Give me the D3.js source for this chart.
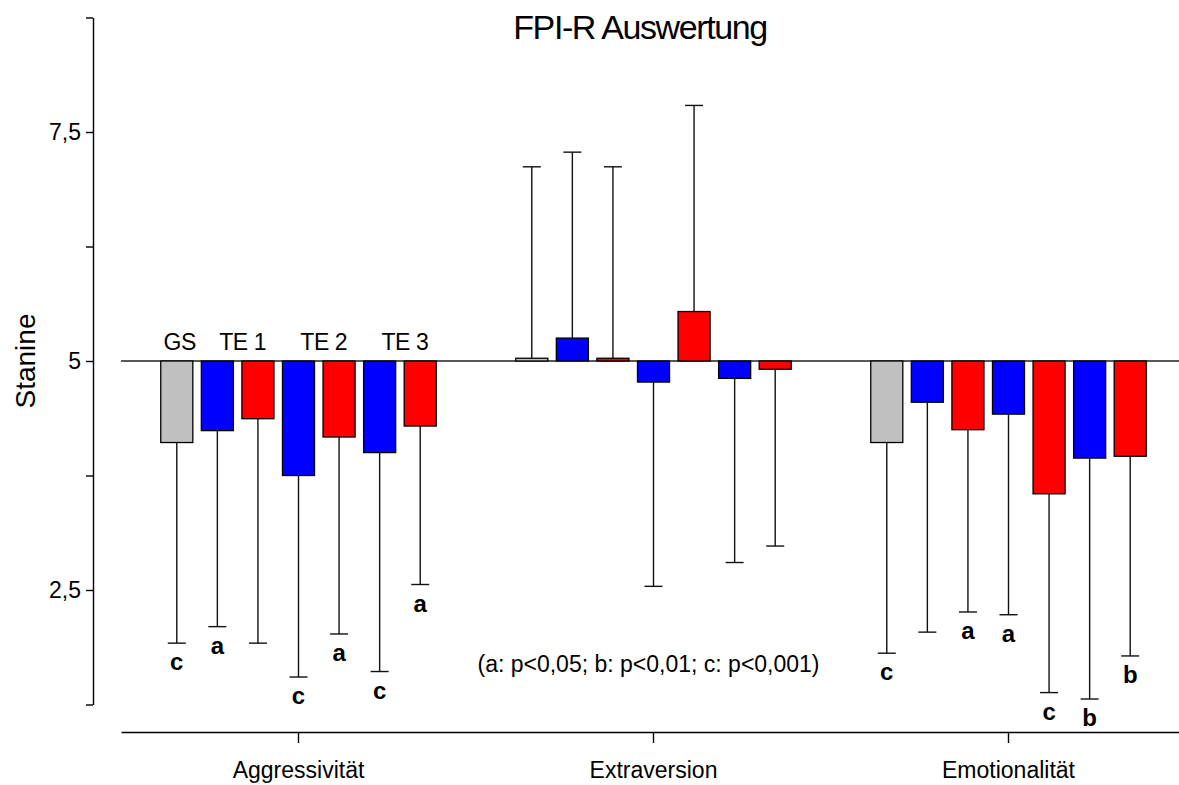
<!DOCTYPE html>
<html>
<head>
<meta charset="utf-8">
<script src="https://cdn.jsdelivr.net/npm/d3@7"></script>
<style>
  body { margin: 0; background: #fff; }
  svg { font-family: "Liberation Sans", Arial, sans-serif; }
  .axis path, .axis line { stroke: #000; stroke-width: 1.4; }
  .axis text { font-size: 23px; fill: #000; }
  .bar { stroke: #000; stroke-width: 1.3; }
  .err { stroke: #111; stroke-width: 1.4; }
  .sig { font-size: 24px; font-weight: bold; text-anchor: middle; }
</style>
</head>
<body>
<svg></svg>
<script>
// data (stanine means and SDs)
const categories = ["Aggressivität", "Extraversion", "Emotionalität"];
const series = ["GS", "TE 1 blau", "TE 1 rot", "TE 2 blau", "TE 2 rot", "TE 3 blau", "TE 3 rot"];
const means = [
  [4.11, 4.24, 4.37, 3.75, 4.17, 4.0, 4.29],
  [5.03, 5.25, 5.03, 4.77, 5.54, 4.81, 4.91],
  [4.11, 4.55, 4.25, 4.42, 3.55, 3.94, 3.96]
];
const sds = [
  [2.19, 2.14, 2.45, 2.2, 2.15, 2.39, 1.73],
  [2.09, 2.03, 2.09, 2.23, 2.25, 2.01, 1.93],
  [2.3, 2.51, 1.99, 2.19, 2.17, 2.63, 2.18]
];
const significance = [
  ["c", "a", "", "c", "a", "c", "a"],
  ["", "", "", "", "", "", ""],
  ["c", "", "a", "a", "c", "b", "b"]
];
const groupLabels = ["GS", "TE 1", "TE 2", "TE 3"];
const groupMembers = [[0], [1, 2], [3, 4], [5, 6]];
const yTicks = [1.25, 2.5, 3.75, 5, 6.25, 7.5, 8.75];
const yLabelled = [2.5, 5, 7.5];
const reference = 5;
const note = "(a: p<0,05; b: p<0,01; c: p<0,001)";

const WIDTH = 1179,
  HEIGHT = 785;
const colors = { GS: "#c0c0c0", blau: "#0000ff", rot: "#ff0000" };
const colorOf = s => (s === "GS" ? colors.GS : s.endsWith("blau") ? colors.blau : colors.rot);

const svg = d3.select("svg").attr("width", WIDTH).attr("height", HEIGHT);

const y = d3.scaleLinear().domain([1.25, 8.75]).range([704.5, 17.5]);
const x0 = d3.scaleBand().domain(categories).range([121, 1186]);
const x1 = d3
  .scaleBand()
  .domain(series)
  .range([-142, 142])
  .paddingInner(0.21)
  .paddingOuter(0.105);

const de = d3.formatLocale({ decimal: ",", thousands: ".", grouping: [3], currency: ["", "€"] });
const fmt = de.format("");

const cxOf = (c, s) => x0(c) + x0.bandwidth() / 2 + x1(s) + x1.bandwidth() / 2;

// flatten
const rows = [];
categories.forEach((c, ci) => {
  series.forEach((s, si) => {
    const m = means[ci][si];
    const end = m >= reference ? m + sds[ci][si] : m - sds[ci][si];
    rows.push({ cat: c, s, m, end, sig: significance[ci][si], cx: cxOf(c, s) });
  });
});

// y axis
svg
  .append("g")
  .attr("class", "axis")
  .attr("transform", "translate(93,0)")
  .call(
    d3
      .axisLeft(y)
      .tickValues(yTicks)
      .tickSize(7)
      .tickSizeOuter(0)
      .tickPadding(5)
      .tickFormat(d => (yLabelled.includes(d) ? fmt(d) : ""))
  );

// x axis
svg
  .append("g")
  .attr("class", "axis")
  .attr("transform", "translate(0,732)")
  .call(d3.axisBottom(x0).tickSize(11).tickSizeOuter(0).tickPadding(19));

// reference line at 5
svg
  .append("line")
  .attr("x1", 121)
  .attr("x2", WIDTH)
  .attr("y1", y(reference))
  .attr("y2", y(reference))
  .attr("stroke", "#222")
  .attr("stroke-width", 1.5);

// error bars
const err = svg.append("g").selectAll("g").data(rows).enter().append("g");
err
  .append("line")
  .attr("class", "err")
  .attr("x1", d => d.cx)
  .attr("x2", d => d.cx)
  .attr("y1", d => y(d.m))
  .attr("y2", d => y(d.end));
err
  .append("line")
  .attr("class", "err")
  .attr("x1", d => d.cx - 9)
  .attr("x2", d => d.cx + 9)
  .attr("y1", d => y(d.end))
  .attr("y2", d => y(d.end));

// bars
svg
  .append("g")
  .selectAll("rect")
  .data(rows)
  .enter()
  .append("rect")
  .attr("class", "bar")
  .attr("x", d => d.cx - x1.bandwidth() / 2)
  .attr("width", x1.bandwidth())
  .attr("y", d => Math.min(y(d.m), y(reference)))
  .attr("height", d => Math.abs(y(d.m) - y(reference)))
  .attr("fill", d => colorOf(d.s))
  .attr("stroke", d => (colorOf(d.s) === colors.rot ? "#5a0000" : "#000"));

// significance letters
svg
  .append("g")
  .selectAll("text")
  .data(rows.filter(d => d.sig))
  .enter()
  .append("text")
  .attr("class", "sig")
  .attr("x", d => d.cx)
  .attr("y", d => y(d.end) + 27)
  .text(d => d.sig);

// group labels above first category
const firstCat = categories[0];
svg
  .append("g")
  .selectAll("text")
  .data(groupLabels)
  .enter()
  .append("text")
  .attr("x", (d, i) => d3.mean(groupMembers[i], j => cxOf(firstCat, series[j])) + (i === 0 ? 3 : 5))
  .attr("y", y(reference) - 11)
  .attr("text-anchor", "middle")
  .style("font-size", "23px")
  .style("letter-spacing", "-0.4px")
  .text(d => d);

// note
svg
  .append("text")
  .attr("x", x0(categories[1]) + x0.bandwidth() / 2 - 5)
  .attr("y", y(1.61))
  .attr("text-anchor", "middle")
  .style("font-size", "23px")
  .text(note);

// title
svg
  .append("text")
  .attr("x", 640)
  .attr("y", 39)
  .attr("text-anchor", "middle")
  .style("font-size", "34px")
  .style("letter-spacing", "-1.4px")
  .text("FPI-R Auswertung");

// y label
svg
  .append("text")
  .attr("transform", `translate(35,${y(reference)}) rotate(-90)`)
  .attr("text-anchor", "middle")
  .style("font-size", "28px")
  .text("Stanine");
</script>
</body>
</html>
